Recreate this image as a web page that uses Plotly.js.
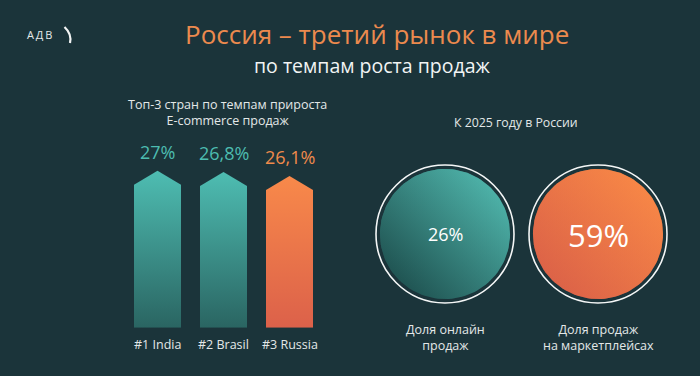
<!DOCTYPE html>
<html>
<head>
<meta charset="utf-8">
<script src="https://cdn.plot.ly/plotly-3.0.1.min.js"></script>
<style>html,body{margin:0;padding:0;background:#1b343a;}#chart{width:700px;height:376px;}</style>
</head>
<body>
<div id="chart"></div>
<script>
// ---- data ----
const categories = ['#1 India', '#2 Brasil', '#3 Russia'];
const growth = [27, 26.8, 26.1];
const growthLabels = ['27%', '26,8%', '26,1%'];
const shareNames = ['Доля онлайн<br>продаж', 'Доля продаж<br>на маркетплейсах'];
const shares = [26, 59];
const shareLabels = ['26%', '59%'];

// ---- style ----
const BG = '#1b343a';
const FONT = 'Open Sans, Noto Sans, sans-serif';
const TEXT = '#e3e8e8';
const barStyles = [
  {dark: '#2a6562', light: '#4ebdb2', label: '#4dbcb0'},
  {dark: '#2a6562', light: '#4ebdb2', label: '#4dbcb0'},
  {dark: '#dc614a', light: '#f8894a', label: '#f08a4b'}
];
const circleStyles = [
  {dark: '#174242', light: '#56c3b8', size: 18},
  {dark: '#d75c48', light: '#fc8d46', size: 31}
];
const halfW = 0.356;     // bar half width (category units)
const tipDepth = 2.4;    // arrow tip height (value units)
const rFill = 0.425, rRing = 0.451;

const py = p => 1 - p / 376;
const px = p => p / 700;

const traces = [];
growth.forEach((v, i) => {
  const s = barStyles[i];
  traces.push({
    type: 'scatter', mode: 'lines', xaxis: 'x', yaxis: 'y',
    x: [i - halfW, i - halfW, i, i + halfW, i + halfW, i - halfW],
    y: [0, v - tipDepth, v, v - tipDepth, 0, 0],
    fill: 'toself', line: {width: 0, color: s.light},
    fillgradient: {type: 'vertical', colorscale: [[0, s.dark], [1, s.light]], start: 0, stop: v},
    hoverinfo: 'skip', showlegend: false
  });
});

shares.forEach((v, i) => {
  const s = circleStyles[i];
  const xs = [], ys = [];
  for (let k = 0; k <= 120; k++) {
    const a = 2 * Math.PI * k / 120;
    xs.push(i + rFill * Math.cos(a));
    ys.push(rFill * Math.sin(a));
  }
  traces.push({
    type: 'scatter', mode: 'lines', xaxis: 'x2', yaxis: 'y2', x: xs, y: ys,
    fill: 'toself', line: {width: 0, color: s.light},
    fillgradient: {type: 'vertical', colorscale: [[0, s.dark], [1, s.light]], start: -rFill, stop: rFill},
    hoverinfo: 'skip', showlegend: false
  });
  traces.push({
    type: 'scatter', mode: 'lines', xaxis: 'x2', yaxis: 'y2', x: xs, y: ys, opacity: 0.5,
    fill: 'toself', line: {width: 0, color: s.light},
    fillgradient: {type: 'horizontal', colorscale: [[0, s.dark], [1, s.light]], start: i - rFill, stop: i + rFill},
    hoverinfo: 'skip', showlegend: false
  });
});

const C = {xanchor: 'center', yanchor: 'middle', showarrow: false};
const annotations = [
  Object.assign({xref: 'paper', yref: 'paper', x: px(377), y: py(34), text: 'Россия – третий рынок в мире',
   font: {family: FONT, size: 26, color: '#ec8a4e'}}, C),
  Object.assign({xref: 'paper', yref: 'paper', x: px(372), y: py(65), text: 'по темпам роста продаж',
   font: {family: FONT, size: 19.5, color: '#f2f4f4'}}, C),
  Object.assign({xref: 'paper', yref: 'paper', x: px(39), y: py(34), text: 'А\u2009Д\u2009В',
   font: {family: FONT, size: 11, color: '#e6eaea'}}, C),
  Object.assign({xref: 'paper', yref: 'paper', x: px(227), y: py(113), text: 'Топ-3 стран по темпам прироста<br>E-commerce продаж',
   font: {family: FONT, size: 12.5, color: TEXT}}, C),
  Object.assign({xref: 'paper', yref: 'paper', x: px(516), y: py(122), text: 'К 2025 году в России',
   font: {family: FONT, size: 12.3, color: TEXT}}, C)
];
growth.forEach((v, i) => {
  annotations.push({xref: 'x', yref: 'y', x: i, y: v, xanchor: 'center', yanchor: 'bottom', yshift: 5, text: growthLabels[i],
    showarrow: false, font: {family: FONT, size: 18, color: barStyles[i].label}});
  annotations.push({xref: 'x', yref: 'y', x: i, y: 0, xanchor: 'center', yanchor: 'top', yshift: -6, text: categories[i],
    showarrow: false, font: {family: FONT, size: 12.5, color: TEXT}});
});
shares.forEach((v, i) => {
  annotations.push(Object.assign({xref: 'x2', yref: 'y2', x: i, y: 0, text: shareLabels[i], yshift: i ? -1 : 0,
    font: {family: FONT, size: circleStyles[i].size, color: '#ffffff'}}, C));
  annotations.push(Object.assign({xref: 'x2', yref: 'paper', x: i, y: py(337), text: shareNames[i],
    font: {family: FONT, size: 12.5, color: TEXT}}, C));
});

const shapes = shares.map((v, i) => ({
  type: 'circle', xref: 'x2', yref: 'y2', x0: i - rRing, x1: i + rRing, y0: -rRing, y1: rRing,
  line: {color: '#f4f6f6', width: 1.6}
}));
shapes.push({type: 'path', xref: 'paper', yref: 'paper',
  path: `M ${px(64.5)} ${py(27)} Q ${px(72)} ${py(34)} ${px(70)} ${py(43)}`,
  line: {color: '#f2f4f4', width: 2.2}});

const hidden = {visible: false, showgrid: false, zeroline: false, fixedrange: true};
const layout = {
  width: 700, height: 376, margin: {l: 0, r: 0, t: 0, b: 0},
  paper_bgcolor: BG, plot_bgcolor: BG, showlegend: false,
  xaxis: Object.assign({domain: [px(124.5), px(322.5)], range: [-0.5, 2.5]}, hidden),
  yaxis: Object.assign({domain: [py(327.7), py(153.4)], range: [0, 30]}, hidden),
  xaxis2: Object.assign({domain: [px(368.5), px(674.5)], range: [-0.5, 1.5], anchor: 'y2'}, hidden),
  yaxis2: Object.assign({domain: [py(310.5), py(157.5)], range: [-0.5, 0.5], anchor: 'x2'}, hidden),
  annotations: annotations, shapes: shapes
};
Plotly.newPlot('chart', traces, layout, {displayModeBar: false, staticPlot: true});
</script>
</body>
</html>
